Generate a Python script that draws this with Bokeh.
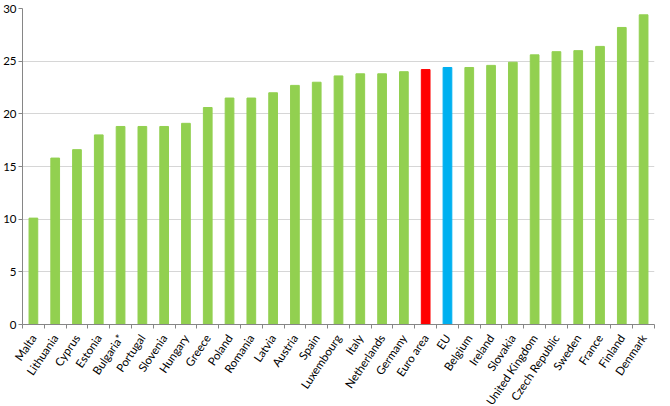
import math
from bokeh.plotting import figure
from bokeh.models import ColumnDataSource, FixedTicker, Range1d
from bokeh.embed import file_html
from bokeh.resources import INLINE

countries = ["Malta", "Lithuania", "Cyprus", "Estonia", "Bulgaria*", "Portugal", "Slovenia",
             "Hungary", "Greece", "Poland", "Romania", "Latvia", "Austria", "Spain",
             "Luxembourg", "Italy", "Netherlands", "Germany", "Euro area", "EU", "Belgium",
             "Ireland", "Slovakia", "United Kingdom", "Czech Republic", "Sweden", "France",
             "Finland", "Denmark"]
values = [10.1, 15.8, 16.6, 18.0, 18.8, 18.8, 18.8, 19.1, 20.6, 21.5, 21.5, 22.0, 22.7, 23.0,
          23.6, 23.8, 23.8, 24.0, 24.2, 24.4, 24.4, 24.6, 24.9, 25.6, 25.9, 26.0, 26.4, 28.2, 29.4]
y_ticks = [0, 5, 10, 15, 20, 25, 30]

GREEN, RED, BLUE = "#92D050", "#FF0000", "#00B0F0"
colors = [RED if c == "Euro area" else BLUE if c == "EU" else GREEN for c in countries]
xs = list(range(len(countries)))

src = ColumnDataSource(dict(x=xs, top=values, color=colors, name=countries))

p = figure(frame_width=632, frame_height=316, output_backend="svg", toolbar_location=None,
           x_range=Range1d(-0.5, len(countries) - 0.5), y_range=Range1d(0, 30),
           min_border_left=10, min_border_right=3, min_border_top=8, min_border_bottom=0)
p.outline_line_color = None
p.vbar(x="x", top="top", width=0.4, color="color", source=src)

FONT = "Lato"
p.xaxis.ticker = FixedTicker(ticks=xs, minor_ticks=[i - 0.5 for i in range(len(countries) + 1)])
p.xaxis.major_label_overrides = {i: c for i, c in enumerate(countries)}
p.xaxis.major_label_orientation = math.radians(56)
p.xaxis.major_tick_line_color = None
p.xaxis.minor_tick_out = 4
p.xaxis.minor_tick_in = 0
p.xaxis.minor_tick_line_color = "#868686"
p.xaxis.axis_line_color = "#868686"
p.xaxis.major_label_text_font = FONT
p.xaxis.major_label_text_font_size = "11.5px"
p.xaxis.major_label_text_color = "#000000"
p.xaxis.major_label_standoff = 5

p.yaxis.ticker = FixedTicker(ticks=y_ticks)
p.yaxis.minor_tick_line_color = None
p.yaxis.major_tick_out = 4
p.yaxis.major_tick_in = 0
p.yaxis.major_tick_line_color = "#868686"
p.yaxis.axis_line_color = "#868686"
p.yaxis.major_label_text_font = FONT
p.yaxis.major_label_text_font_size = "11.5px"
p.yaxis.major_label_text_color = "#000000"
p.yaxis.major_label_standoff = 2

p.xgrid.grid_line_color = None
p.ygrid.grid_line_color = "#D6D6D6"
p.ygrid.ticker = FixedTicker(ticks=y_ticks)

open("out.html", "w").write(file_html(p, INLINE))
